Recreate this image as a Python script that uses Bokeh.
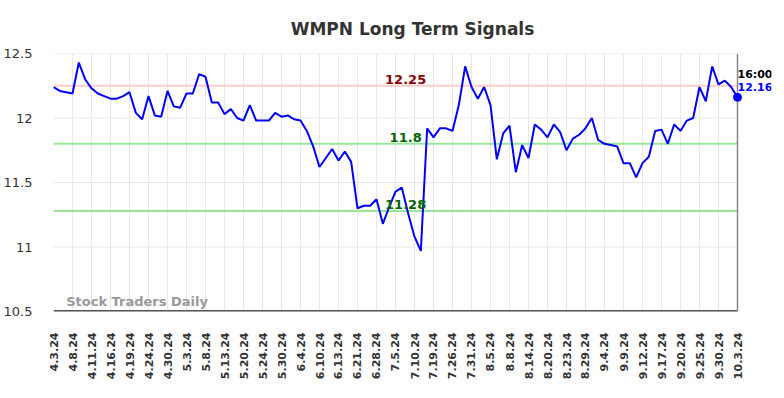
from bokeh.plotting import figure
from bokeh.models import FixedTicker, Label, Range1d
from bokeh.embed import file_html
from bokeh.resources import INLINE

title_text = "WMPN Long Term Signals"

tick_labels = ["4.3.24", "4.8.24", "4.11.24", "4.16.24", "4.19.24", "4.24.24", "4.30.24",
               "5.3.24", "5.8.24", "5.13.24", "5.20.24", "5.24.24", "5.30.24", "6.4.24",
               "6.10.24", "6.13.24", "6.21.24", "6.28.24", "7.5.24", "7.10.24", "7.19.24",
               "7.26.24", "7.31.24", "8.5.24", "8.8.24", "8.14.24", "8.20.24", "8.23.24",
               "8.29.24", "9.4.24", "9.9.24", "9.12.24", "9.17.24", "9.20.24", "9.25.24",
               "9.30.24", "10.3.24"]
tick_step = 3

prices = [12.24, 12.21, 12.20, 12.19, 12.43, 12.30, 12.23, 12.19, 12.17, 12.15,
          12.15, 12.17, 12.20, 12.04, 11.99, 12.17, 12.02, 12.01, 12.21, 12.09,
          12.08, 12.19, 12.19, 12.34, 12.32, 12.12, 12.12, 12.03, 12.07, 12.00,
          11.98, 12.10, 11.98, 11.98, 11.98, 12.04, 12.01, 12.02, 11.99, 11.98,
          11.90, 11.78, 11.62, 11.69, 11.76, 11.67, 11.74, 11.66, 11.30, 11.32,
          11.32, 11.37, 11.18, 11.31, 11.43, 11.46, 11.26, 11.08, 10.97, 11.92,
          11.85, 11.92, 11.92, 11.90, 12.10, 12.40, 12.24, 12.15, 12.24, 12.10,
          11.68, 11.88, 11.94, 11.58, 11.79, 11.69, 11.95, 11.91, 11.85, 11.95,
          11.89, 11.75, 11.84, 11.87, 11.92, 12.00, 11.83, 11.80, 11.79, 11.78,
          11.65, 11.65, 11.54, 11.65, 11.70, 11.90, 11.91, 11.80, 11.95, 11.90,
          11.98, 12.00, 12.24, 12.13, 12.40, 12.26, 12.29, 12.24, 12.16]

resistance = 12.25
support_levels = [11.8, 11.28]
last_time = "16:00"
y_ticks = [10.5, 11, 11.5, 12, 12.5]
y_tick_labels = ["10.5", "11", "11.5", "12", "12.5"]

xs = list(range(len(prices)))
last_x = xs[-1]
last_y = prices[-1]
y_lo, y_hi = y_ticks[0], y_ticks[-1]

FONT = "DejaVu Sans"

W, H = 776, 390
BL, BR, BT, BB = 53, 5, 53, 79
data_px = 684.0                     # pixel width covered by the data
frame_px = W - BL - BR
x_end = last_x * frame_px / data_px  # extra room to the right for end labels

p = figure(width=W, height=H, output_backend="svg", toolbar_location=None,
           x_range=Range1d(0, x_end), y_range=Range1d(y_lo, y_hi),
           min_border_left=BL, min_border_right=BR, min_border_top=BT, min_border_bottom=BB)
p.title.text = title_text
p.title.align = "center"
p.title.text_font = FONT
p.title.text_font_size = "17px"
p.title.text_font_style = "bold"
p.title.text_color = "#333333"
p.title.offset = 0
p.title.standoff = 30

p.outline_line_color = None
p.background_fill_color = "white"

# grids
grid_col = "#e8e8e8"
p.xgrid.ticker = FixedTicker(ticks=xs[::tick_step])
p.xgrid.grid_line_color = grid_col
p.ygrid.grid_line_color = None
p.segment(x0=[xs[0]] * len(y_ticks), y0=y_ticks, x1=[last_x] * len(y_ticks), y1=y_ticks,
          line_color=grid_col, line_width=1)

# x axis
xa = p.xaxis[0]
xa.ticker = FixedTicker(ticks=xs[::tick_step])
xa.major_label_overrides = {xs[::tick_step][k]: lab for k, lab in enumerate(tick_labels)}
xa.major_label_orientation = 1.5707963
xa.major_label_text_font = FONT
xa.major_label_text_font_size = "11px"
xa.major_label_text_font_style = "bold"
xa.major_label_text_color = "#333333"
xa.major_tick_line_color = None
xa.minor_tick_line_color = None
xa.major_label_standoff = 15
xa.axis_line_color = None

# y axis
ya = p.yaxis[0]
ya.ticker = FixedTicker(ticks=y_ticks)
ya.major_label_overrides = {t: l for t, l in zip(y_ticks, y_tick_labels)}
ya.major_label_text_font = FONT
ya.major_label_text_font_size = "13px"
ya.major_label_text_color = "#333333"
ya.major_tick_line_color = None
ya.minor_tick_line_color = None
ya.axis_line_color = None
ya.major_label_standoff = 15

# level lines
p.line([xs[0], last_x], [resistance, resistance], line_color="#ffcccc", line_width=2)
for s in support_levels:
    p.line([xs[0], last_x], [s, s], line_color="#99e699", line_width=2)

# bottom axis line and right border
p.line([xs[0], last_x], [y_lo, y_lo], line_color="#555555", line_width=3)
p.line([last_x, last_x], [y_lo, y_hi], line_color="#888888", line_width=1.5)

mid_x = 55.6
p.add_layout(Label(x=mid_x, y=resistance, text="12.25", text_align="center", text_baseline="bottom",
                   y_offset=2, text_font=FONT, text_font_size="13px", text_font_style="bold",
                   text_color="#8b0000"))
for s, lab in zip(support_levels, ["11.8", "11.28"]):
    p.add_layout(Label(x=mid_x, y=s, text=lab, text_align="center", text_baseline="bottom",
                       y_offset=2, text_font=FONT, text_font_size="13px", text_font_style="bold",
                       text_color="#006400"))

# price line
p.line(xs, prices, line_color="#0000ff", line_width=2)
p.scatter([last_x], [last_y], size=8, fill_color="#0000ff", line_color="#0000ff")

p.add_layout(Label(x=last_x, y=last_y, text=last_time, text_align="left", text_baseline="middle",
                   x_offset=0, y_offset=23, text_font=FONT, text_font_size="11px",
                   text_font_style="bold", text_color="#000000"))
p.add_layout(Label(x=last_x, y=last_y, text="%.2f" % last_y, text_align="left", text_baseline="middle",
                   x_offset=0, y_offset=10, text_font=FONT, text_font_size="11px",
                   text_font_style="bold", text_color="#0000ff"))

# watermark
p.add_layout(Label(x=2, y=y_lo, text="Stock Traders Daily", text_align="left", text_baseline="bottom",
                   y_offset=3, text_font=FONT, text_font_size="13px", text_font_style="bold",
                   text_color="#999999"))

open("out.html", "w").write(file_html(p, INLINE))
